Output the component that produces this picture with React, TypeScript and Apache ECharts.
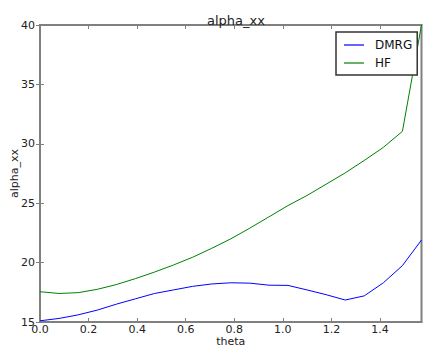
import React, { useEffect, useRef } from "react";
import * as echarts from "echarts";

const thetaSteps = Array.from({ length: 21 }, (_, k) => k);
const dmrg = [15.1, 15.3, 15.6, 16.0, 16.5, 16.95, 17.4, 17.7, 18.0, 18.2, 18.3, 18.27, 18.1, 18.08, 17.7, 17.3, 16.85, 17.2, 18.3, 19.75, 21.9];
const hf = [17.55, 17.4, 17.47, 17.75, 18.15, 18.65, 19.2, 19.8, 20.45, 21.2, 22.0, 22.9, 23.85, 24.8, 25.65, 26.6, 27.55, 28.6, 29.7, 31.05, 40.0];
const seriesNames = ["DMRG", "HF"];
const chartTitle = "alpha_xx";
const xName = "theta";
const yName = "alpha_xx";

const FONT = "DejaVu Sans";

export default function App() {
  const ref = useRef<HTMLDivElement>(null);
  useEffect(() => {
    if (!ref.current) return;
    const chart = echarts.init(ref.current, undefined, { renderer: "svg" });
    const thetas = thetaSteps.map((k) => (k * Math.PI) / 40);
    const xMax = Math.PI / 2;
    const axisLine = { show: true, lineStyle: { color: "#808080", width: 2 } };
    const tickIn = { show: true, inside: true, length: 4, lineStyle: { color: "#808080", width: 1 } };
    chart.setOption({
      animation: false,
      backgroundColor: "#fff",
      title: {
        text: chartTitle,
        left: 231,
        top: 9,
        textAlign: "center",
        textStyle: { fontFamily: FONT, fontSize: 13, fontWeight: "normal", color: "#222" },
      },
      legend: {
        orient: "vertical",
        left: 336,
        top: 32,
        data: seriesNames.map((n) => ({ name: n, icon: "rect" })),
        borderColor: "#333",
        borderWidth: 1.5,
        backgroundColor: "#fff",
        padding: [6, 5, 5, 8],
        itemGap: 4,
        itemWidth: 20,
        itemHeight: 1.2,
        textStyle: { fontFamily: FONT, fontSize: 12, color: "#111", padding: [0, 0, 0, 6], lineHeight: 14 },
      },
      grid: {
        left: 40,
        top: 25,
        right: 1.5,
        bottom: 25,
        show: true,
        borderColor: "#808080",
        borderWidth: 2,
        containLabel: false,
        outerBoundsMode: "none",
      },
      xAxis: [
        {
          type: "value",
          min: 0,
          max: xMax,
          interval: 0.2,
          name: xName,
          nameLocation: "middle",
          nameGap: 13,
          nameMoveOverlap: false,
          nameTextStyle: { fontFamily: FONT, fontSize: 11, color: "#222", lineHeight: 12 },
          axisLine,
          axisTick: tickIn,
          splitLine: { show: false },
          axisLabel: {
            fontFamily: FONT,
            fontSize: 11,
            lineHeight: 11,
            color: "#222",
            margin: 2,
            showMaxLabel: false,
            formatter: (v: number) => v.toFixed(1),
          },
        },
        {
          type: "value",
          position: "top",
          min: 0,
          max: xMax,
          interval: 0.2,
          axisLine,
          axisTick: tickIn,
          splitLine: { show: false },
          axisLabel: { show: false },
        },
      ],
      yAxis: [
        {
          type: "value",
          min: 15,
          max: 40,
          interval: 5,
          name: yName,
          nameLocation: "middle",
          nameGap: 20,
          nameMoveOverlap: false,
          nameTextStyle: { fontFamily: FONT, fontSize: 11, color: "#222" },
          axisLine,
          axisTick: tickIn,
          splitLine: { show: false },
          axisLabel: { fontFamily: FONT, fontSize: 11, color: "#222", margin: 5 },
        },
        {
          type: "value",
          position: "right",
          min: 15,
          max: 40,
          interval: 5,
          axisLine,
          axisTick: tickIn,
          splitLine: { show: false },
          axisLabel: { show: false },
        },
      ],
      series: [
        {
          name: seriesNames[0],
          type: "line",
          symbol: "none",
          lineStyle: { color: "#0000ff", width: 1 },
          itemStyle: { color: "#0000ff" },
          data: thetas.map((t, i) => [t, dmrg[i]]),
        },
        {
          name: seriesNames[1],
          type: "line",
          symbol: "none",
          lineStyle: { color: "#008000", width: 1 },
          itemStyle: { color: "#008000" },
          data: thetas.map((t, i) => [t, hf[i]]),
        },
      ],
    });
    return () => chart.dispose();
  }, []);
  return (
    <div
      ref={ref}
      style={{ position: "fixed", left: 0, top: 0, width: 423, height: 347 }}
    />
  );
}
